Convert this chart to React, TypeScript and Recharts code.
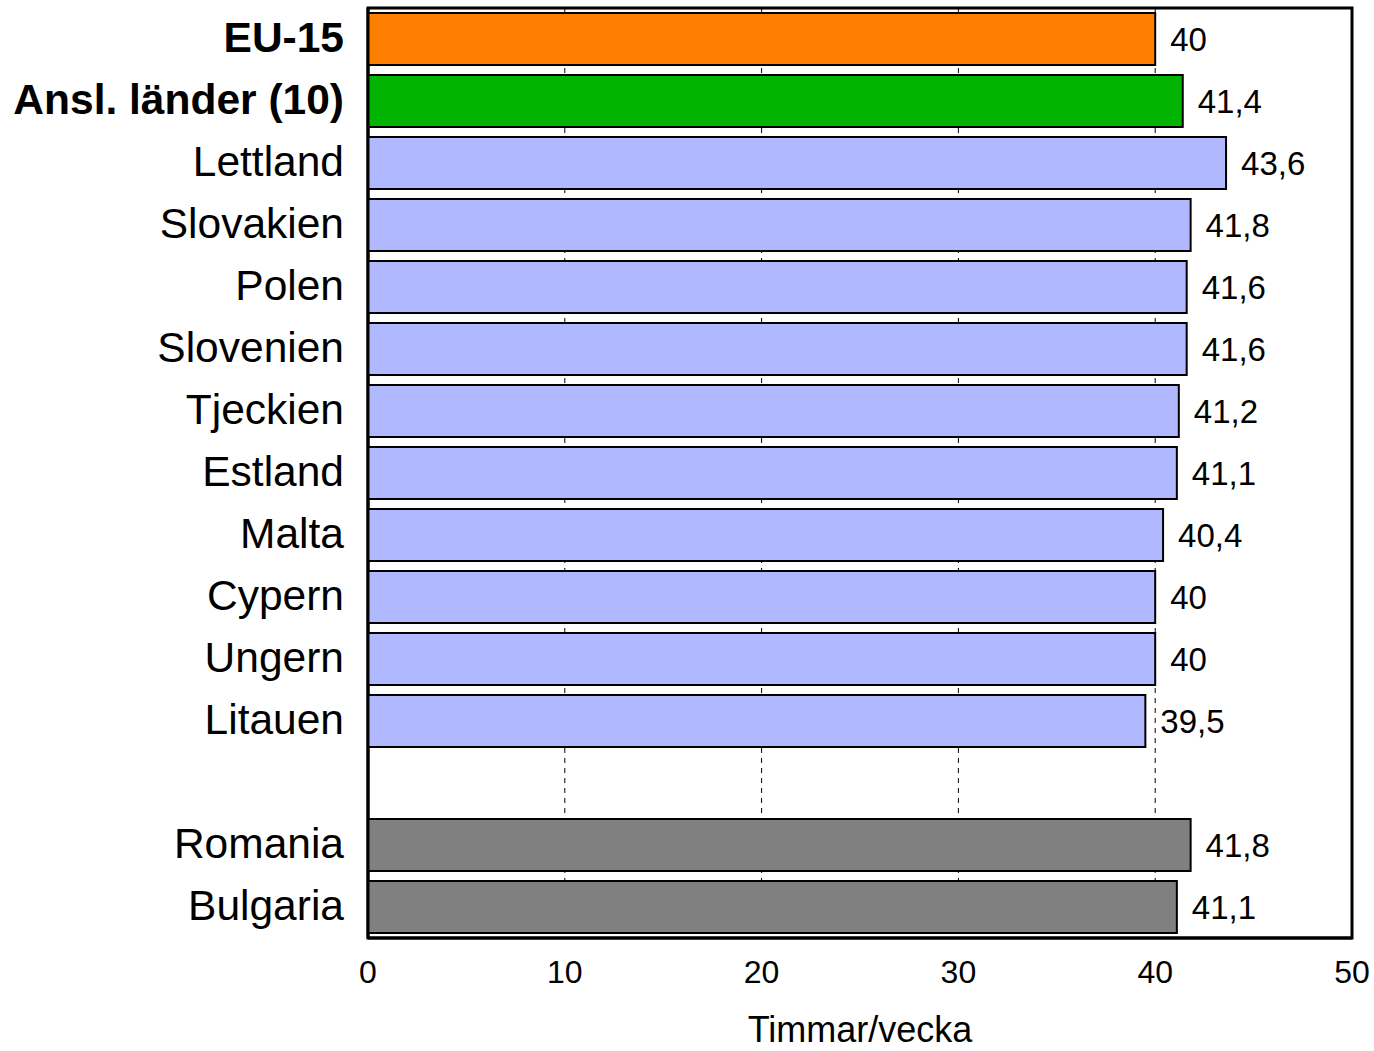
import React from 'react';
import { BarChart, Bar, XAxis, YAxis, CartesianGrid, Cell, LabelList, ReferenceArea } from 'recharts';

// Swedish LFS comparison: usual weekly hours, EU-15 vs accession countries
const categories = [
  'EU-15', 'Ansl. länder (10)', 'Lettland', 'Slovakien', 'Polen', 'Slovenien', 'Tjeckien',
  'Estland', 'Malta', 'Cypern', 'Ungern', 'Litauen', '', 'Romania', 'Bulgaria',
];
const hours = [40, 41.4, 43.6, 41.8, 41.6, 41.6, 41.2, 41.1, 40.4, 40, 40, 39.5, null, 41.8, 41.1];
const groups = ['eu', 'acc', 'c', 'c', 'c', 'c', 'c', 'c', 'c', 'c', 'c', 'c', 'gap', 'cand', 'cand'];
const boldRows = ['EU-15', 'Ansl. länder (10)'];
const xTicks = [0, 10, 20, 30, 40, 50];

const COLORS: Record<string, string> = {
  eu: '#FF8000',
  acc: '#00B400',
  c: '#B0B8FF',
  cand: '#808080',
  gap: 'none',
};

const FONT = '"Liberation Sans", Arial, Helvetica, sans-serif';

const data = categories.map((name, i) => ({ name, value: hours[i], group: groups[i] }));

function CountryTick(props: any) {
  const { x, y, payload } = props;
  const bold = boldRows.includes(payload.value);
  return (
    <text x={x} y={y} dy="0.3em" textAnchor="end" fontSize={42.5} fontFamily={FONT}
      fontWeight={bold ? 'bold' : 'normal'} fill="#000">
      {payload.value}
    </text>
  );
}

export default function App() {
  return (
    <div style={{ position: 'absolute', left: 0, top: 0 }}>
      <BarChart
        width={1374}
        height={1051}
        data={data}
        layout="vertical"
        margin={{ top: 8, right: 22, bottom: 0, left: 0 }}
        barCategoryGap={5}
      >
        <CartesianGrid horizontal={false} stroke="#000" strokeDasharray="5 5" strokeWidth={1} />
        <XAxis
          type="number"
          domain={[0, 50]}
          ticks={xTicks}
          height={113}
          tickLine={false}
          tickSize={0}
          tickMargin={22}
          axisLine={{ stroke: '#000', strokeWidth: 3 }}
          tick={{ fill: '#000', fontSize: 32, fontFamily: FONT }}
          label={{ value: 'Timmar/vecka', position: 'insideBottom', offset: 9, fill: '#000', fontSize: 36, fontFamily: FONT }}
        />
        <YAxis
          type="category"
          dataKey="name"
          width={368}
          interval={0}
          tickLine={false}
          tickSize={0}
          tickMargin={24}
          axisLine={{ stroke: '#000', strokeWidth: 3 }}
          tick={<CountryTick />}
        />
        <Bar dataKey="value" stroke="#000" strokeWidth={2} isAnimationActive={false}>
          {data.map((d, i) => (
            <Cell key={i} fill={COLORS[d.group]} />
          ))}
          <LabelList
            dataKey="value"
            position="right"
            offset={15}
            fill="#000"
            fontSize={33}
            fontFamily={FONT}
            formatter={(v: any) => (v == null ? '' : String(v).replace('.', ','))}
          />
        </Bar>
        <ReferenceArea x1={0} x2={50} fill="none" stroke="#000" strokeWidth={3} ifOverflow="visible" />
      </BarChart>
    </div>
  );
}
